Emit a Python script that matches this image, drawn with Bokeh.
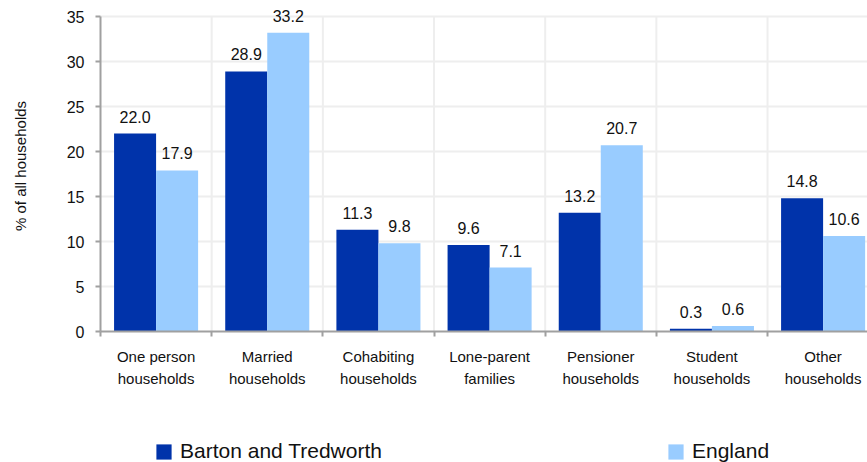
from bokeh.plotting import figure
from bokeh.layouts import column
from bokeh.models import Range1d, FixedTicker, ColumnDataSource, Legend, LegendItem, LabelSet
from bokeh.core.properties import value
from bokeh.embed import file_html
from bokeh.resources import INLINE

categories = ["One person\nhouseholds", "Married\nhouseholds", "Cohabiting\nhouseholds",
              "Lone-parent\nfamilies", "Pensioner\nhouseholds", "Student\nhouseholds",
              "Other\nhouseholds"]
barton = [22.0, 28.9, 11.3, 9.6, 13.2, 0.3, 14.8]
england = [17.9, 33.2, 9.8, 7.1, 20.7, 0.6, 10.6]
series_names = ["Barton and Tredworth", "England"]
y_ticks = [0, 5, 10, 15, 20, 25, 30, 35]

DARK = "#0033aa"
LIGHT = "#99ccff"
FONT = "Liberation Sans"
TXT = "#111111"
AXC = "#a0a0a0"
GRC = "#eeeeee"
BW = 0.378
CAT_PX = 111.17

idx = list(range(len(categories)))
centers = [i + 0.5 for i in idx]
bounds_x = list(range(1, len(categories) + 1))
src_b = ColumnDataSource(dict(x=[c - BW / 2 for c in centers], top=barton,
                              lab=[f"{v:.1f}" for v in barton]))
src_e = ColumnDataSource(dict(x=[c + BW / 2 for c in centers], top=england,
                              lab=[f"{v:.1f}" for v in england]))

y_max = y_ticks[-1]
p = figure(width=867, height=430, output_backend="svg", toolbar_location=None,
           x_range=Range1d(0, 767 / CAT_PX), y_range=Range1d(0, y_max * 331 / 315),
           min_border_left=100, min_border_right=0, min_border_top=0, min_border_bottom=99)
p.outline_line_color = None

# vertical grid lines between categories (stop at the top tick)
p.segment(x0=bounds_x, y0=[0] * len(bounds_x), x1=bounds_x, y1=[y_max] * len(bounds_x),
          line_color=GRC, line_width=2, level="underlay")
p.xgrid.visible = False

rb = p.vbar(x="x", top="top", width=BW, source=src_b, color=DARK, line_color=None)
re = p.vbar(x="x", top="top", width=BW, source=src_e, color=LIGHT, line_color=None)

for src in (src_b, src_e):
    p.add_layout(LabelSet(x="x", y="top", text="lab", source=src, text_align="center",
                          text_baseline="alphabetic", y_offset=11, text_font=value(FONT),
                          text_font_size="16px", text_color=TXT))

p.ygrid.ticker = FixedTicker(ticks=y_ticks)
p.ygrid.grid_line_color = GRC
p.ygrid.grid_line_width = 2
p.ygrid.bounds = (0, y_max)

# x axis
xa = p.xaxis[0]
xa.ticker = FixedTicker(ticks=centers, minor_ticks=list(range(len(categories) + 1)))
xa.major_label_overrides = {c: categories[i] for i, c in enumerate(centers)}
xa.major_tick_out = 0
xa.major_tick_in = 0
xa.minor_tick_out = 5
xa.minor_tick_in = 0
xa.minor_tick_line_color = AXC
xa.minor_tick_line_width = 2
xa.axis_line_color = AXC
xa.axis_line_width = 2
xa.major_label_text_font = FONT
xa.major_label_text_font_size = "15px"
xa.major_label_text_line_height = 1.3
xa.major_label_text_color = TXT
xa.major_label_standoff = 11

# y axis
ya = p.yaxis[0]
ya.ticker = FixedTicker(ticks=y_ticks)
ya.bounds = (0, y_max)
ya.major_tick_out = 5
ya.major_tick_in = 0
ya.minor_tick_out = 0
ya.minor_tick_in = 0
ya.major_tick_line_color = AXC
ya.major_tick_line_width = 2
ya.axis_line_color = AXC
ya.axis_line_width = 2
ya.major_label_text_font = FONT
ya.major_label_text_font_size = "16px"
ya.major_label_text_color = TXT
ya.major_label_standoff = 11
ya.axis_label = "% of all households"
ya.axis_label_text_font = FONT
ya.axis_label_text_font_size = "15px"
ya.axis_label_text_font_style = "normal"
ya.axis_label_text_color = TXT
ya.axis_label_standoff = 35

# legend strip
pl = figure(width=867, height=32, output_backend="svg", toolbar_location=None,
            x_range=Range1d(0, 1), y_range=Range1d(0, 1),
            x_axis_location=None, y_axis_location=None, min_border=0)
pl.outline_line_color = None
pl.grid.visible = False
lb = pl.vbar(x=[-5], top=[0], width=0.1, color=DARK, line_color=None)
le = pl.vbar(x=[-5], top=[0], width=0.1, color=LIGHT, line_color=None)
for r, name, loc in ((lb, series_names[0], (54, -1)), (le, series_names[1], (566, -1))):
    pl.add_layout(Legend(items=[LegendItem(label=name, renderers=[r])], location=loc,
                         padding=0, margin=0, border_line_color=None,
                         background_fill_alpha=0, glyph_width=19, glyph_height=19,
                         label_text_font=FONT, label_text_font_size="21px",
                         label_text_color=TXT, label_standoff=7))

layout = column(p, pl, spacing=0)
open("out.html", "w").write(file_html(layout, INLINE))
